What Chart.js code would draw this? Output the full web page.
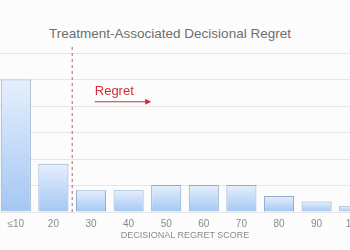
<!DOCTYPE html>
<html lang="en">
<head>
<meta charset="UTF-8">
<title>Treatment-Associated Decisional Regret</title>
<script src="https://cdn.jsdelivr.net/npm/chart.js@4.4.0/dist/chart.umd.min.js"></script>
<style>
    html, body {
        margin: 0;
        padding: 0;
        width: 350px;
        height: 250px;
        overflow: hidden;
        background: #fcfcfc;
        font-family: 'Liberation Sans', Arial, sans-serif;
    }
    #titulo {
        position: absolute;
        left: 0;
        width: 340px;
        top: 26px;
        text-align: center;
        font-size: 13.5px;
        color: #6e6e6e;
    }
    #ejeX {
        position: absolute;
        left: 85px;
        width: 200px;
        top: 230px;
        text-align: center;
        font-size: 9px;
        line-height: 10px;
        color: #8a8a8a;
    }
    #caja {
        position: absolute;
        left: -3px;
        top: 45px;
        width: 376px;
        height: 205px;
    }
</style>
</head>
<body>

<div id="titulo">Treatment-Associated Decisional Regret</div>
<div id="caja"><canvas id="grafico"></canvas></div>
<div id="ejeX">DECISIONAL REGRET SCORE</div>

<script>
    // datos (unidades de la rejilla: 5 por linea)
    const categorias = ['≤10', '20', '30', '40', '50', '60', '70', '80', '90', '100'];
    const valores = [25, 9.1, 4.1, 4.1, 5.1, 5.1, 5.1, 3.0, 2.0, 1.1];
    const marcasY = [0, 5, 10, 15, 20, 25, 30];

    // degradado vertical por barra
    function colorBarra(ctx) {
        const chart = ctx.chart;
        const area = chart.chartArea;
        if (!area || !chart.scales.y) return '#c4dbf7';
        const y = chart.scales.y;
        const arriba = y.getPixelForValue(valores[ctx.dataIndex]);
        const abajo = y.getPixelForValue(0);
        if (!isFinite(arriba) || abajo - arriba < 1) return '#c4dbf7';
        const g = chart.ctx.createLinearGradient(0, arriba, 0, abajo);
        g.addColorStop(0, '#e6effc');
        g.addColorStop(1, '#a3c7f3');
        return g;
    }

    // linea roja discontinua y anotacion "Regret"
    const anotacion = {
        id: 'anotacion',
        afterDatasetsDraw(chart) {
            const { ctx, scales: { x, y } } = chart;
            const xl = (x.getPixelForValue(1) + x.getPixelForValue(2)) / 2;
            ctx.save();
            ctx.strokeStyle = '#c8586a';
            ctx.lineWidth = 1;
            ctx.setLineDash([3, 3]);
            ctx.beginPath();
            ctx.moveTo(xl, chart.chartArea.top - 6);
            ctx.lineTo(xl, y.getPixelForValue(0));
            ctx.stroke();
            ctx.setLineDash([]);

            const x0 = x.getPixelForValue(2.1);
            const x1 = x.getPixelForValue(3.6);
            ctx.fillStyle = '#d42a3c';
            ctx.font = '13px "Liberation Sans", Arial, sans-serif';
            ctx.textBaseline = 'middle';
            ctx.fillText('Regret', x0, y.getPixelForValue(22.7));
            const ya = y.getPixelForValue(20.8);
            ctx.strokeStyle = '#d42a3c';
            ctx.beginPath();
            ctx.moveTo(x0, ya);
            ctx.lineTo(x1 - 4, ya);
            ctx.stroke();
            ctx.beginPath();
            ctx.moveTo(x1, ya);
            ctx.lineTo(x1 - 6, ya - 3);
            ctx.lineTo(x1 - 6, ya + 3);
            ctx.closePath();
            ctx.fill();
            ctx.restore();
        }
    };

    new Chart(document.getElementById('grafico'), {
        type: 'bar',
        data: {
            labels: categorias,
            datasets: [{
                data: valores,
                backgroundColor: colorBarra,
                borderColor: '#8eaacd',
                borderWidth: 1,
                categoryPercentage: 1,
                barPercentage: 0.8
            }]
        },
        options: {
            responsive: true,
            maintainAspectRatio: false,
            animation: false,
            layout: { padding: { top: 8, left: 0, right: 0, bottom: 14 } },
            plugins: {
                legend: { display: false },
                tooltip: { enabled: false }
            },
            scales: {
                x: {
                    grid: { display: false, drawTicks: false },
                    border: { display: false },
                    ticks: {
                        color: '#8a8a8a',
                        font: { size: 10, lineHeight: 1, family: '"Liberation Sans", Arial, sans-serif' },
                        padding: 7
                    }
                },
                y: {
                    display: true,
                    min: 0,
                    max: 30,
                    afterBuildTicks(s) { s.ticks = marcasY.map(v => ({ value: v })); },
                    afterFit(s) { s.width = 0; },
                    ticks: { display: false },
                    border: { display: false },
                    grid: { color: '#e6e6e6', lineWidth: 1, drawTicks: false }
                }
            }
        },
        plugins: [anotacion]
    });
</script>

</body>
</html>
